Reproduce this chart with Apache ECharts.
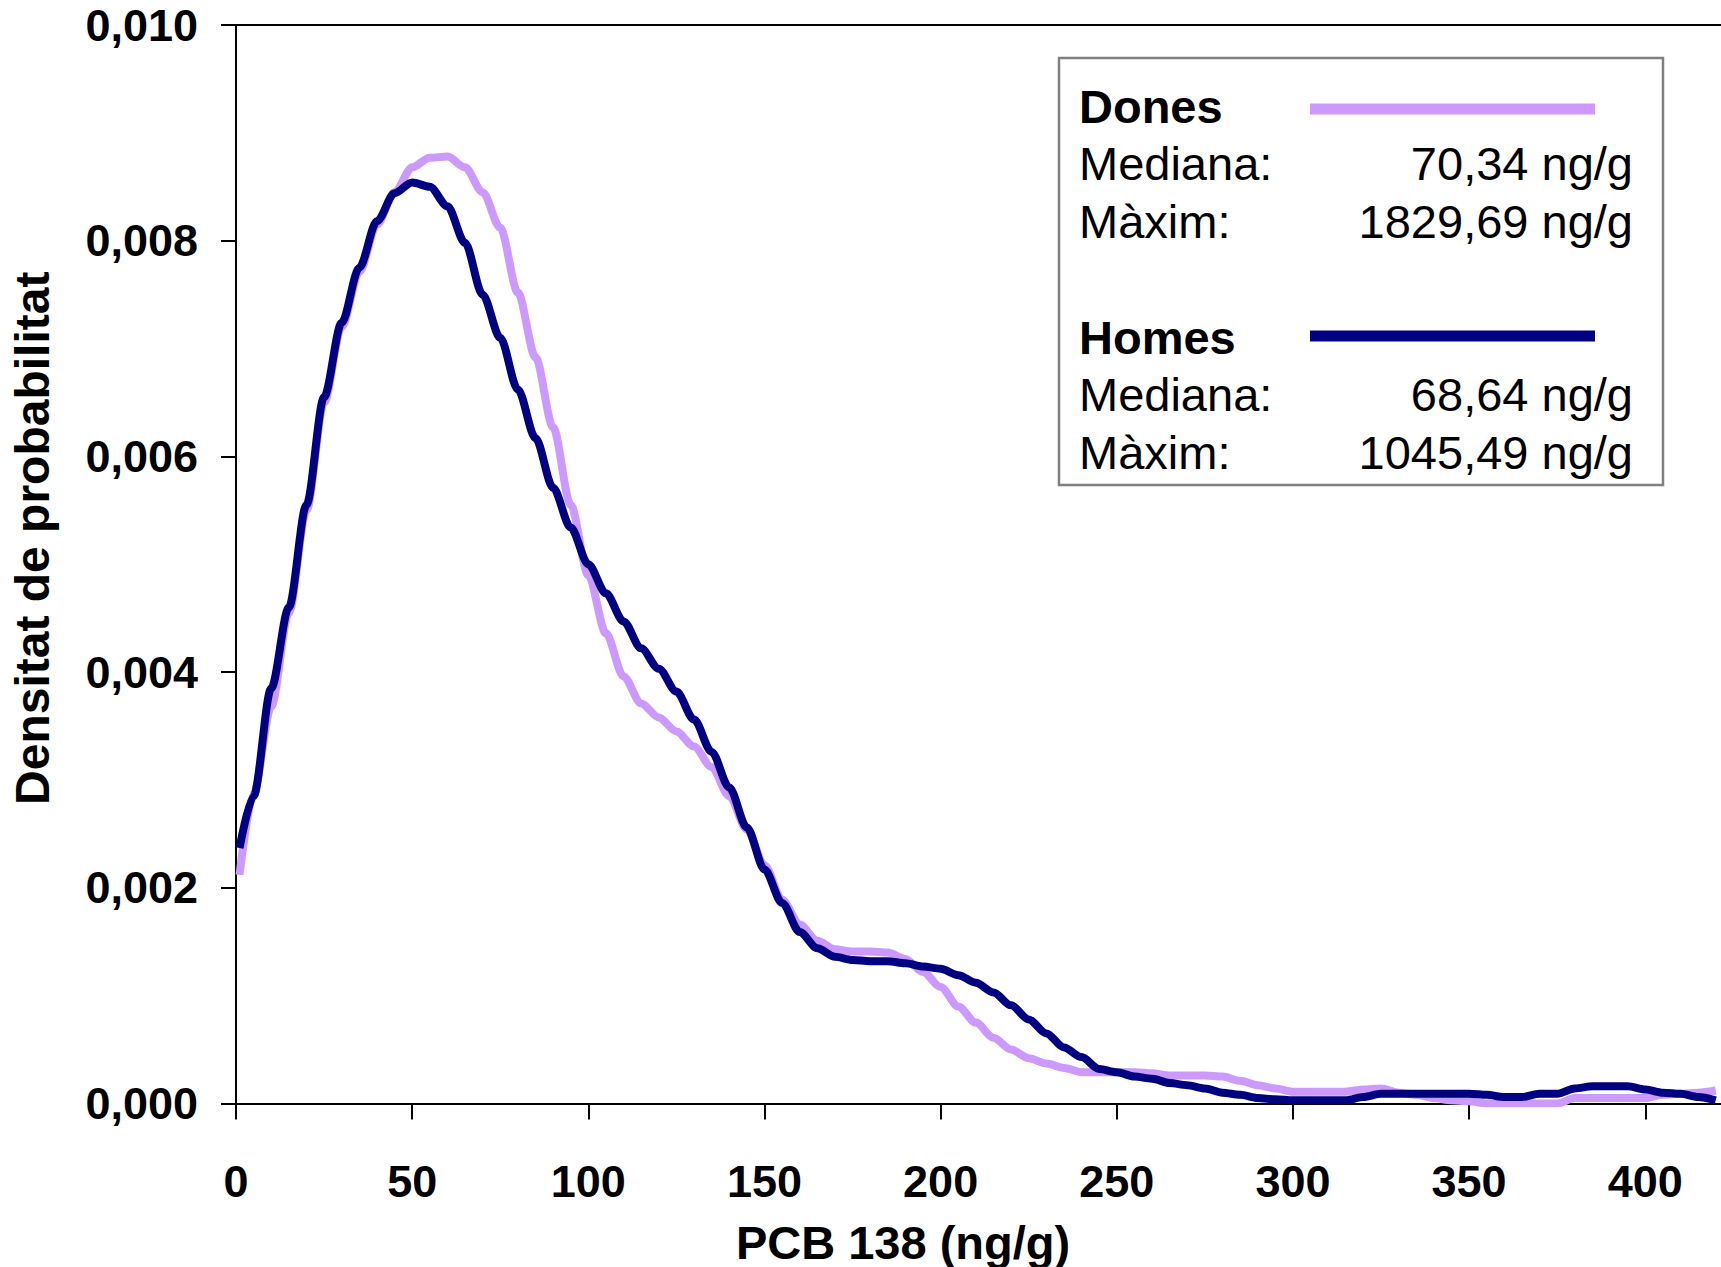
<!DOCTYPE html>
<html>
<head>
	<meta charset="utf-8">
	<title>PCB 138</title>
	<script src="https://cdn.jsdelivr.net/npm/echarts@6/dist/echarts.min.js"></script>
	<style>
		body { margin: 0; background: #fff; }
	</style>
</head>
<body>
	<div id="main" style="width: 1721px; height: 1267px"></div>
	<script type="text/javascript">
		// PCB 138 (ng/g), points along the x axis
		var xValues = [1, 5, 10, 15, 20, 25, 30, 35, 40, 45, 50, 55, 60, 65, 70, 75, 80, 85, 90, 95,
			100, 105, 110, 115, 120, 125, 130, 135, 140, 145, 150, 155, 160, 165, 170, 175, 180, 185, 190, 195,
			200, 205, 210, 215, 220, 225, 230, 235, 240, 245, 250, 255, 260, 265, 270, 275, 280, 285, 290, 295,
			300, 305, 310, 315, 320, 325, 330, 335, 340, 345, 350, 355, 360, 365, 370, 375, 380, 385, 390, 395,
			400, 405, 410, 415, 420];
		// densitat de probabilitat - dones
		var donesDensity = [0.00212, 0.00288, 0.00368, 0.00455, 0.00550, 0.00650, 0.00720, 0.00771, 0.00815, 0.00845,
			0.00868, 0.00877, 0.00878, 0.00868, 0.00845, 0.00812, 0.00752, 0.00692, 0.00627, 0.00555,
			0.00490, 0.00436, 0.00396, 0.00371, 0.00358, 0.00345, 0.00331, 0.00312, 0.00285, 0.00254,
			0.00221, 0.00189, 0.00166, 0.00151, 0.00143, 0.00141, 0.00141, 0.00140, 0.00134, 0.00122,
			0.00108, 0.00090, 0.00075, 0.00061, 0.00050, 0.00042, 0.00037, 0.00033, 0.00029, 0.00029,
			0.00029, 0.00029, 0.00028, 0.00026, 0.00026, 0.00026, 0.00025, 0.00021, 0.00017, 0.00014,
			0.00011, 0.00011, 0.00011, 0.00011, 0.00013, 0.00014, 0.00010, 0.00008, 0.00005, 0.00003,
			0.00002, 0, 0, 0, 0, 0, 0.00005, 0.00005, 0.00005, 0.00005,
			0.00005, 0.00008, 0.00009, 0.00010, 0.00012];
		// densitat de probabilitat - homes
		var homesDensity = [0.00237, 0.00285, 0.00385, 0.00460, 0.00555, 0.00655, 0.00724, 0.00775, 0.00818, 0.00844,
			0.00854, 0.00850, 0.00832, 0.00798, 0.00750, 0.00710, 0.00662, 0.00617, 0.00571, 0.00534,
			0.00500, 0.00473, 0.00447, 0.00422, 0.00403, 0.00382, 0.00356, 0.00326, 0.00293, 0.00256,
			0.00217, 0.00186, 0.00159, 0.00144, 0.00136, 0.00133, 0.00132, 0.00132, 0.00130, 0.00127,
			0.00125, 0.00119, 0.00112, 0.00103, 0.00091, 0.00078, 0.00065, 0.00052, 0.00043, 0.00032,
			0.00029, 0.00025, 0.00023, 0.00019, 0.00017, 0.00014, 0.00010, 0.00008, 0.00005, 0.00004,
			0.00003, 0.00003, 0.00003, 0.00003, 0.00006, 0.00009, 0.00009, 0.00009, 0.00009, 0.00009,
			0.00009, 0.00008, 0.00006, 0.00006, 0.00009, 0.00009, 0.00014, 0.00016, 0.00016, 0.00016,
			0.00013, 0.00010, 0.00009, 0.00006, 0.00003];
		var seriesNames = ['Dones', 'Homes'];
		var medianes = ['70,34 ng/g', '68,64 ng/g'];
		var maxims = ['1829,69 ng/g', '1045,49 ng/g'];

		var FONT = '"Liberation Sans", Arial, sans-serif';
		var LIGHT = '#cc99ff', DARK = '#000080';

		function pairs(ys) {
			return xValues.map(function (x, i) { return [x, ys[i]]; });
		}

		// legend box drawn by hand, like the original
		function legendBlock(lineY, top, i, color) {
			return [
				{ type: 'text', left: 1079, top: top - 26, style: { text: seriesNames[i], font: 'bold 47px ' + FONT, fill: '#000' } },
				{ type: 'line', shape: { x1: 1310, y1: lineY, x2: 1595, y2: lineY }, style: { stroke: color, lineWidth: 11 } },
				{ type: 'text', left: 1079, top: top + 31, style: { text: 'Mediana:', font: '47px ' + FONT, fill: '#000' } },
				{ type: 'text', right: 88, top: top + 31, style: { text: medianes[i], font: '47px ' + FONT, fill: '#000', align: 'right' } },
				{ type: 'text', left: 1079, top: top + 89, style: { text: 'Màxim:', font: '47px ' + FONT, fill: '#000' } },
				{ type: 'text', right: 88, top: top + 89, style: { text: maxims[i], font: '47px ' + FONT, fill: '#000', align: 'right' } }
			];
		}

		var myChart = echarts.init(document.getElementById('main'), null, { renderer: 'svg' });
		var option = {
			backgroundColor: '#fff',
			animation: false,
			grid: { left: 236, top: 25, right: 0, bottom: 163.5, outerBoundsMode: 'none' },
			xAxis: [{
				type: 'value',
				min: 0,
				max: 421.5,
				interval: 50,
				axisLine: { lineStyle: { color: '#000', width: 2 } },
				axisTick: { length: 16, lineStyle: { color: '#000', width: 2 } },
				axisLabel: {
					margin: 55,
					color: '#000',
					fontFamily: FONT,
					fontWeight: 'bold',
					fontSize: 45,
					showMaxLabel: false,
					formatter: function (v) { return v % 50 === 0 ? String(v) : ''; }
				},
				splitLine: { show: false },
				name: 'PCB 138 (ng/g)',
				nameLocation: 'middle',
				nameGap: 115,
				nameTextStyle: { color: '#000', fontFamily: FONT, fontWeight: 'bold', fontSize: 47, padding: [0, 151, 0, 0] }
			}, {
				// top border of the plot
				type: 'value',
				position: 'top',
				min: 0,
				max: 421.5,
				axisLine: { show: true, lineStyle: { color: '#000', width: 2 } },
				axisTick: { show: false },
				axisLabel: { show: false },
				splitLine: { show: false }
			}],
			yAxis: {
				type: 'value',
				min: 0,
				max: 0.01,
				interval: 0.002,
				axisLine: { show: true, lineStyle: { color: '#000', width: 2 } },
				axisTick: { show: true, length: 15, lineStyle: { color: '#000', width: 2 } },
				axisLabel: {
					margin: 38,
					color: '#000',
					fontFamily: FONT,
					fontWeight: 'bold',
					fontSize: 45,
					formatter: function (v) { return v.toFixed(3).replace('.', ','); }
				},
				splitLine: { show: false },
				name: 'Densitat de probabilitat',
				nameLocation: 'middle',
				nameGap: 180,
				nameTextStyle: { color: '#000', fontFamily: FONT, fontWeight: 'bold', fontSize: 48, padding: [0, 0, 0, 52] }
			},
			series: [{
				name: seriesNames[0],
				type: 'line',
				data: pairs(donesDensity),
				showSymbol: false,
				smooth: 0.3,
				smoothMonotone: 'x',
				lineStyle: { color: LIGHT, width: 8 },
				itemStyle: { color: LIGHT }
			}, {
				name: seriesNames[1],
				type: 'line',
				data: pairs(homesDensity),
				showSymbol: false,
				smooth: 0.3,
				smoothMonotone: 'x',
				lineStyle: { color: DARK, width: 8 },
				itemStyle: { color: DARK }
			}],
			graphic: [
				{ type: 'rect', shape: { x: 1059, y: 58, width: 604, height: 427 }, style: { fill: '#fff', stroke: '#808080', lineWidth: 2.5 } }
			].concat(legendBlock(109, 109, 0, LIGHT), legendBlock(336, 339.5, 1, DARK))
		};
		myChart.setOption(option);
	</script>
</body>
</html>
